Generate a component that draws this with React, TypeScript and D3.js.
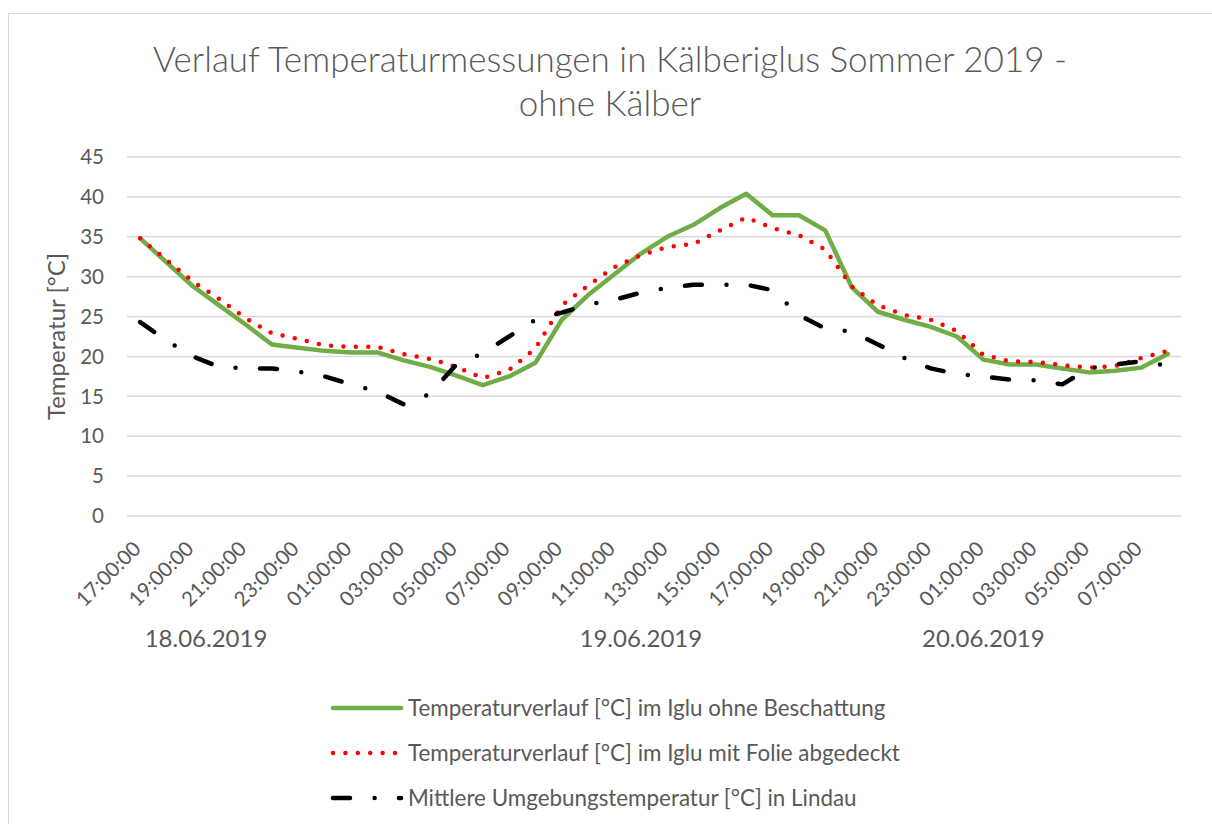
import React, { useEffect, useRef } from "react";
import * as d3 from "d3";

// Stundenwerte 18.06.2019 17:00 bis 20.06.2019 08:00
const hours = [
  "17:00:00", "18:00:00", "19:00:00", "20:00:00", "21:00:00", "22:00:00", "23:00:00",
  "00:00:00", "01:00:00", "02:00:00", "03:00:00", "04:00:00", "05:00:00", "06:00:00",
  "07:00:00", "08:00:00", "09:00:00", "10:00:00", "11:00:00", "12:00:00", "13:00:00",
  "14:00:00", "15:00:00", "16:00:00", "17:00:00", "18:00:00", "19:00:00", "20:00:00",
  "21:00:00", "22:00:00", "23:00:00", "00:00:00", "01:00:00", "02:00:00", "03:00:00",
  "04:00:00", "05:00:00", "06:00:00", "07:00:00", "08:00:00",
];

const dates = ["18.06.2019", "19.06.2019", "20.06.2019"];
const datePos = [3, 19.5, 32.5]; // Position in Kategorien

const ohneBeschattung = [
  34.8, 31.8, 28.8, 26.4, 24.0, 21.5, 21.1, 20.7, 20.5, 20.5, 19.5, 18.7, 17.6, 16.4,
  17.5, 19.2, 24.6, 27.7, 30.3, 32.9, 35.0, 36.5, 38.6, 40.4, 37.7, 37.7, 35.8, 28.7,
  25.6, 24.6, 23.7, 22.5, 19.6, 19.0, 19.0, 18.5, 18.0, 18.2, 18.6, 20.3,
];

const mitFolie = [
  34.8, 32.1, 29.4, 27.2, 24.8, 22.9, 22.2, 21.4, 21.2, 21.2, 20.3, 19.7, 18.7, 17.3,
  18.3, 21.0, 26.4, 28.9, 31.2, 32.7, 33.7, 34.1, 35.8, 37.4, 36.1, 35.2, 33.4, 28.8,
  26.4, 25.2, 24.6, 23.2, 20.2, 19.4, 19.3, 18.9, 18.6, 18.8, 19.8, 20.7,
];

const lindau = [
  24.3, 22.0, 20.0, 18.7, 18.5, 18.5, 18.1, 17.5, 16.5, 15.6, 14.0, 15.3, 19.0, 20.4,
  22.5, 24.6, 25.5, 26.5, 27.1, 28.0, 28.6, 29.0, 29.0, 29.0, 28.3, 25.2, 23.5, 23.1,
  21.5, 19.8, 18.5, 17.8, 17.5, 17.1, 17.0, 16.5, 18.5, 19.0, 19.4, 18.8,
];

const yTicks = [0, 5, 10, 15, 20, 25, 30, 35, 40, 45];

const seriesNames = [
  "Temperaturverlauf [°C] im Iglu ohne Beschattung",
  "Temperaturverlauf [°C] im Iglu mit Folie abgedeckt",
  "Mittlere Umgebungstemperatur [°C] in Lindau",
];

const App = () => {
  const ref = useRef(null);

  useEffect(() => {
    const width = 1212;
    const height = 824;
    const left = 127;
    const right = 1181;
    const top = 157;
    const bottom = 516;
    const textColor = "#595959";
    const font = "Lato, 'Open Sans', sans-serif";

    d3.select(ref.current).selectAll("*").remove();

    const svg = d3
      .select(ref.current)
      .append("svg")
      .attr("width", width)
      .attr("height", height)
      .style("position", "absolute")
      .style("left", 0)
      .style("top", 0)
      .style("font-family", font);

    svg.append("rect").attr("width", width).attr("height", height).attr("fill", "#fff");

    // Rahmen des Diagrammbereichs
    svg
      .append("rect")
      .attr("x", 8.5)
      .attr("y", 13.5)
      .attr("width", width + 20)
      .attr("height", height + 20)
      .attr("fill", "none")
      .attr("stroke", "#d9d9d9")
      .attr("stroke-width", 1);

    const x = d3.scalePoint().domain(d3.range(hours.length)).range([left, right]).padding(0.5);
    const y = d3.scaleLinear().domain([0, 45]).range([bottom, top]);

    // Titel
    const title = svg
      .append("text")
      .attr("text-anchor", "middle")
      .attr("fill", textColor)
      .attr("font-size", "35px")
      .attr("font-weight", 300);
    title.append("tspan").attr("x", 610).attr("y", 72).text("Verlauf Temperaturmessungen in Kälberiglus Sommer 2019 -");
    title.append("tspan").attr("x", 610).attr("y", 116).text("ohne Kälber");

    // Gitterlinien
    svg
      .append("g")
      .selectAll("line")
      .data(yTicks)
      .join("line")
      .attr("x1", left)
      .attr("x2", right)
      .attr("y1", (d) => y(d))
      .attr("y2", (d) => y(d))
      .attr("stroke", "#d9d9d9")
      .attr("stroke-width", 1.5);

    // Y-Achse
    svg
      .append("g")
      .selectAll("text")
      .data(yTicks)
      .join("text")
      .attr("x", 104)
      .attr("y", (d) => y(d))
      .attr("dy", "0.35em")
      .attr("text-anchor", "end")
      .attr("fill", textColor)
      .attr("font-size", "20.5px")
      .text((d) => d);

    svg
      .append("text")
      .attr("transform", `translate(65,${(top + bottom) / 2}) rotate(-90)`)
      .attr("text-anchor", "middle")
      .attr("fill", textColor)
      .attr("font-size", "24px")
      .text("Temperatur [°C]");

    // X-Achse (jede zweite Stunde)
    svg
      .append("g")
      .selectAll("text")
      .data(hours.map((h, i) => ({ h, i })).filter((d) => d.i % 2 === 0))
      .join("text")
      .attr("transform", (d) => `translate(${x(d.i) + 2},${bottom + 34}) rotate(-45)`)
      .attr("text-anchor", "end")
      .attr("fill", textColor)
      .attr("font-size", "20.5px")
      .text((d) => d.h);

    svg
      .append("g")
      .selectAll("text")
      .data(dates)
      .join("text")
      .attr("x", (d, i) => left + x.step() * datePos[i])
      .attr("y", 647)
      .attr("text-anchor", "middle")
      .attr("fill", textColor)
      .attr("font-size", "24px")
      .text((d) => d);

    const styles = [
      { color: "#70ad47", width: 4.5, dash: null },
      { color: "#ff0000", width: 4.5, dash: "0 12.4" },
      { color: "#000000", width: 4.5, dash: "17 24.6 0 24.4" },
    ];
    const allSeries = [ohneBeschattung, mitFolie, lindau];

    const line = d3
      .line()
      .x((d, i) => x(i))
      .y((d) => y(d));

    svg
      .append("g")
      .selectAll("path")
      .data(allSeries)
      .join("path")
      .attr("d", (d) => line(d))
      .attr("fill", "none")
      .attr("stroke", (d, i) => styles[i].color)
      .attr("stroke-width", (d, i) => styles[i].width)
      .attr("stroke-dasharray", (d, i) => styles[i].dash)
      .attr("stroke-linecap", "round")
      .attr("stroke-linejoin", "round");

    // Legende
    const legend = svg
      .append("g")
      .selectAll("g")
      .data(seriesNames)
      .join("g")
      .attr("transform", (d, i) => `translate(0,${708 + i * 45})`);

    legend
      .append("line")
      .attr("x1", 333)
      .attr("x2", 401)
      .attr("stroke", (d, i) => styles[i].color)
      .attr("stroke-width", (d, i) => styles[i].width)
      .attr("stroke-dasharray", (d, i) => styles[i].dash)
      .attr("stroke-linecap", "round");

    legend
      .append("text")
      .attr("x", 408)
      .attr("dy", "0.35em")
      .attr("fill", textColor)
      .attr("font-size", "22.4px")
      .text((d) => d);
  }, []);

  return <div ref={ref} />;
};

export default App;
